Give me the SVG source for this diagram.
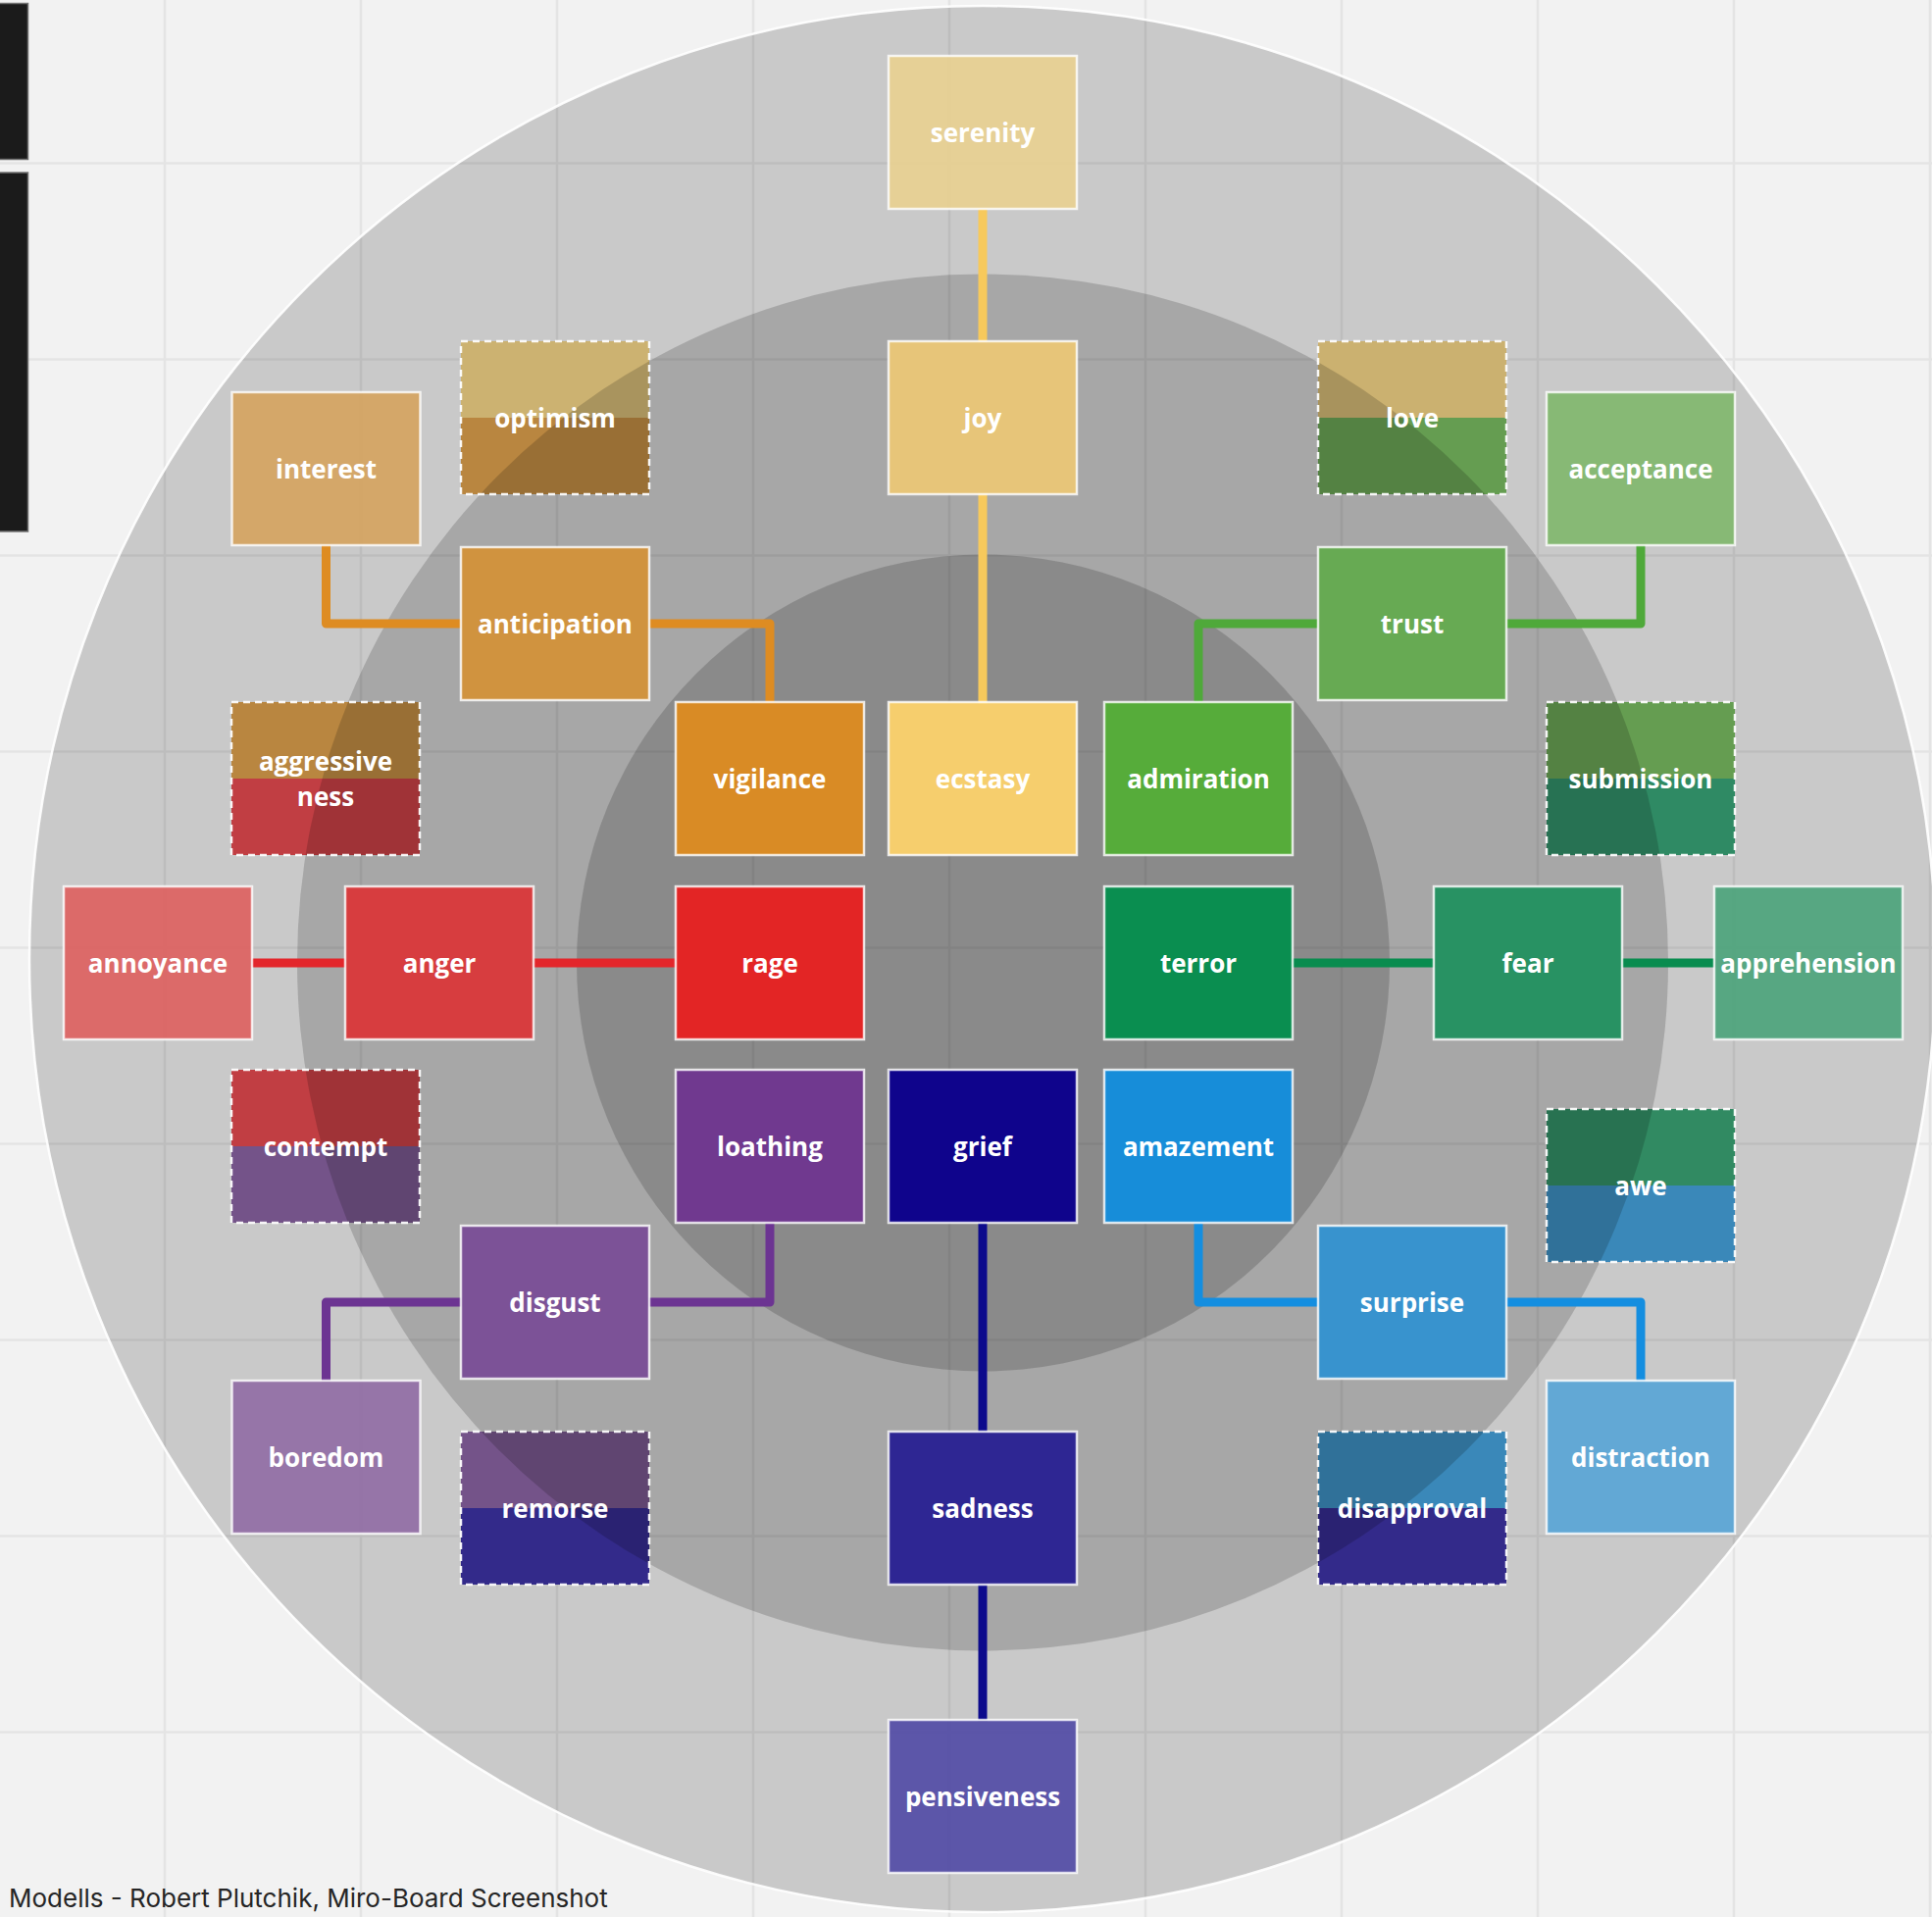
<svg xmlns="http://www.w3.org/2000/svg" xmlns:xlink="http://www.w3.org/1999/xlink" width="1970" height="1955" viewBox="0 0 1970 1955">
<style>
.grid line{stroke:#e4e4e4;stroke-width:2.5}
.conn path{fill:none;stroke-width:9;stroke-linejoin:round;stroke-linecap:butt}
.box{stroke:#ffffff;stroke-opacity:0.8;stroke-width:2.5;fill-opacity:0.97}
.dash{fill:none;stroke:#ffffff;stroke-opacity:0.92;stroke-width:2.5;stroke-dasharray:7 5}
.lbl{font-family:"Open Sans","DejaVu Sans",sans-serif;font-weight:700;font-size:26px;fill:#ffffff;text-anchor:middle}
.cap{font-family:Inter,"Liberation Sans",sans-serif;font-size:26px;fill:#262626}
</style>
<defs>
<g id="ringShapes">
<circle cx="1002" cy="978" r="972" fill="#000" fill-opacity="0.17"/>
<ellipse cx="1002" cy="981.5" rx="699" ry="702" fill="#000" fill-opacity="0.17"/>
<ellipse cx="1002.5" cy="982" rx="414.5" ry="416.5" fill="#000" fill-opacity="0.17"/>
</g>
<clipPath id="c-optimism"><rect x="470" y="348" width="192" height="156"/></clipPath>
<clipPath id="c-love"><rect x="1344" y="348" width="192" height="156"/></clipPath>
<clipPath id="c-aggressiveness"><rect x="236" y="716" width="192" height="156"/></clipPath>
<clipPath id="c-submission"><rect x="1577" y="716" width="192" height="156"/></clipPath>
<clipPath id="c-contempt"><rect x="236" y="1091" width="192" height="156"/></clipPath>
<clipPath id="c-awe"><rect x="1577" y="1131" width="192" height="156"/></clipPath>
<clipPath id="c-remorse"><rect x="470" y="1460" width="192" height="156"/></clipPath>
<clipPath id="c-disapproval"><rect x="1344" y="1460" width="192" height="156"/></clipPath>
</defs>

<rect x="0" y="0" width="1970" height="1955" fill="#f2f2f2"/>
<g class="grid">
<line x1="168" y1="0" x2="168" y2="1955"/>
<line x1="368" y1="0" x2="368" y2="1955"/>
<line x1="568" y1="0" x2="568" y2="1955"/>
<line x1="768" y1="0" x2="768" y2="1955"/>
<line x1="968" y1="0" x2="968" y2="1955"/>
<line x1="1168" y1="0" x2="1168" y2="1955"/>
<line x1="1368" y1="0" x2="1368" y2="1955"/>
<line x1="1568" y1="0" x2="1568" y2="1955"/>
<line x1="1768" y1="0" x2="1768" y2="1955"/>
<line x1="1968" y1="0" x2="1968" y2="1955"/>
<line x1="0" y1="166.5" x2="1970" y2="166.5"/>
<line x1="0" y1="366.5" x2="1970" y2="366.5"/>
<line x1="0" y1="566.5" x2="1970" y2="566.5"/>
<line x1="0" y1="766.5" x2="1970" y2="766.5"/>
<line x1="0" y1="966.5" x2="1970" y2="966.5"/>
<line x1="0" y1="1166.5" x2="1970" y2="1166.5"/>
<line x1="0" y1="1366.5" x2="1970" y2="1366.5"/>
<line x1="0" y1="1566.5" x2="1970" y2="1566.5"/>
<line x1="0" y1="1766.5" x2="1970" y2="1766.5"/>
</g>

<g id="sidebar">
<rect x="-4" y="3.5" width="32.5" height="159" fill="#1b1b1b" stroke="#707070" stroke-width="1.5"/>
<rect x="-4" y="176" width="32.5" height="366" fill="#1b1b1b" stroke="#707070" stroke-width="1.5"/>
</g>

<g id="rings">
<use href="#ringShapes" xlink:href="#ringShapes"/>
<circle cx="1002" cy="978" r="972" fill="none" stroke="#ffffff" stroke-width="2.5" stroke-opacity="0.9"/>
</g>

<g id="connectors" class="conn">
<path d="M1002,212 V350" stroke="#f7c95c"/>
<path d="M1002,502 V718" stroke="#f7c95c"/>
<path d="M332.5,554 V636 H472" stroke="#de8c22"/>
<path d="M660,636 H785 V718" stroke="#de8c22"/>
<path d="M1222,718 V636 H1346" stroke="#4fa93a"/>
<path d="M1534,636 H1673 V554" stroke="#4fa93a"/>
<path d="M255,982 H354" stroke="#e3262b"/>
<path d="M542,982 H691" stroke="#e3262b"/>
<path d="M1316,982 H1464" stroke="#098c4f"/>
<path d="M1652,982 H1750" stroke="#098c4f"/>
<path d="M785,1245 V1328 H660" stroke="#6c3492"/>
<path d="M472,1328 H332.5 V1410" stroke="#6c3492"/>
<path d="M1002,1245 V1462" stroke="#0c0a8c"/>
<path d="M1002,1614 V1756" stroke="#0c0a8c"/>
<path d="M1222,1245 V1328 H1346" stroke="#148ee0"/>
<path d="M1534,1328 H1673 V1410" stroke="#148ee0"/>
</g>

<g id="nodes">
<g id="serenity"><rect class="box" x="906" y="57" width="192" height="156" fill="#e6cf94"/><text class="lbl" x="1002" y="145">serenity</text></g>
<g id="joy"><rect class="box" x="906" y="348" width="192" height="156" fill="#e9c678"/><text class="lbl" x="1002" y="436">joy</text></g>
<g id="ecstasy"><rect class="box" x="906" y="716" width="192" height="156" fill="#fad16c"/><text class="lbl" x="1002" y="804">ecstasy</text></g>
<g id="interest"><rect class="box" x="236.5" y="400" width="192" height="156" fill="#d4a565"/><text class="lbl" x="332.5" y="488">interest</text></g>
<g id="anticipation"><rect class="box" x="470" y="558" width="192" height="156" fill="#d2933c"/><text class="lbl" x="566" y="646">anticipation</text></g>
<g id="vigilance"><rect class="box" x="689" y="716" width="192" height="156" fill="#dc8b22"/><text class="lbl" x="785" y="804">vigilance</text></g>
<g id="acceptance"><rect class="box" x="1577" y="400" width="192" height="156" fill="#84b872"/><text class="lbl" x="1673" y="488">acceptance</text></g>
<g id="trust"><rect class="box" x="1344" y="558" width="192" height="156" fill="#65aa51"/><text class="lbl" x="1440" y="646">trust</text></g>
<g id="admiration"><rect class="box" x="1126" y="716" width="192" height="156" fill="#55ad38"/><text class="lbl" x="1222" y="804">admiration</text></g>
<g id="annoyance"><rect class="box" x="65" y="904" width="192" height="156" fill="#dc6665"/><text class="lbl" x="161" y="992">annoyance</text></g>
<g id="anger"><rect class="box" x="352" y="904" width="192" height="156" fill="#d93a3c"/><text class="lbl" x="448" y="992">anger</text></g>
<g id="rage"><rect class="box" x="689" y="904" width="192" height="156" fill="#e62222"/><text class="lbl" x="785" y="992">rage</text></g>
<g id="terror"><rect class="box" x="1126" y="904" width="192" height="156" fill="#068e4e"/><text class="lbl" x="1222" y="992">terror</text></g>
<g id="fear"><rect class="box" x="1462" y="904" width="192" height="156" fill="#249261"/><text class="lbl" x="1558" y="992">fear</text></g>
<g id="apprehension"><rect class="box" x="1748" y="904" width="192" height="156" fill="#53a57f"/><text class="lbl" x="1844" y="992">apprehension</text></g>
<g id="loathing"><rect class="box" x="689" y="1091" width="192" height="156" fill="#6f378f"/><text class="lbl" x="785" y="1179">loathing</text></g>
<g id="grief"><rect class="box" x="906" y="1091" width="192" height="156" fill="#0b008c"/><text class="lbl" x="1002" y="1179">grief</text></g>
<g id="amazement"><rect class="box" x="1126" y="1091" width="192" height="156" fill="#148ddc"/><text class="lbl" x="1222" y="1179">amazement</text></g>
<g id="disgust"><rect class="box" x="470" y="1250" width="192" height="156" fill="#7b5097"/><text class="lbl" x="566" y="1338">disgust</text></g>
<g id="surprise"><rect class="box" x="1344" y="1250" width="192" height="156" fill="#3593d0"/><text class="lbl" x="1440" y="1338">surprise</text></g>
<g id="boredom"><rect class="box" x="236.5" y="1408" width="192" height="156" fill="#9472a6"/><text class="lbl" x="332.5" y="1496">boredom</text></g>
<g id="distraction"><rect class="box" x="1577" y="1408" width="192" height="156" fill="#5ea6d5"/><text class="lbl" x="1673" y="1496">distraction</text></g>
<g id="sadness"><rect class="box" x="906" y="1460" width="192" height="156" fill="#2a2293"/><text class="lbl" x="1002" y="1548">sadness</text></g>
<g id="pensiveness"><rect class="box" x="906" y="1754" width="192" height="156" fill="#5852a7"/><text class="lbl" x="1002" y="1842">pensiveness</text></g>

<g id="optimism"><rect x="470" y="348" width="192" height="78" fill="#f6d688"/><rect x="470" y="426" width="192" height="78" fill="#dfa24e"/><use href="#ringShapes" xlink:href="#ringShapes" clip-path="url(#c-optimism)"/><rect class="dash" x="470" y="348" width="192" height="156"/><text class="lbl" x="566" y="436">optimism</text></g>
<g id="love"><rect x="1344" y="348" width="192" height="78" fill="#f5d587"/><rect x="1344" y="426" width="192" height="78" fill="#7abd62"/><use href="#ringShapes" xlink:href="#ringShapes" clip-path="url(#c-love)"/><rect class="dash" x="1344" y="348" width="192" height="156"/><text class="lbl" x="1440" y="436">love</text></g>
<g id="aggressiveness"><rect x="236" y="716" width="192" height="78" fill="#dfa24e"/><rect x="236" y="794" width="192" height="78" fill="#e94b51"/><use href="#ringShapes" xlink:href="#ringShapes" clip-path="url(#c-aggressiveness)"/><rect class="dash" x="236" y="716" width="192" height="156"/><text class="lbl" x="332" y="786">aggressive</text><text class="lbl" x="332" y="822">ness</text></g>
<g id="submission"><rect x="1577" y="716" width="192" height="78" fill="#7abd62"/><rect x="1577" y="794" width="192" height="78" fill="#39a679"/><use href="#ringShapes" xlink:href="#ringShapes" clip-path="url(#c-submission)"/><rect class="dash" x="1577" y="716" width="192" height="156"/><text class="lbl" x="1673" y="804">submission</text></g>
<g id="contempt"><rect x="236" y="1091" width="192" height="78" fill="#e94b51"/><rect x="236" y="1169" width="192" height="78" fill="#8c64a5"/><use href="#ringShapes" xlink:href="#ringShapes" clip-path="url(#c-contempt)"/><rect class="dash" x="236" y="1091" width="192" height="156"/><text class="lbl" x="332" y="1179">contempt</text></g>
<g id="awe"><rect x="1577" y="1131" width="192" height="78" fill="#3ba776"/><rect x="1577" y="1209" width="192" height="78" fill="#46a4df"/><use href="#ringShapes" xlink:href="#ringShapes" clip-path="url(#c-awe)"/><rect class="dash" x="1577" y="1131" width="192" height="156"/><text class="lbl" x="1673" y="1219">awe</text></g>
<g id="remorse"><rect x="470" y="1460" width="192" height="78" fill="#8c64a5"/><rect x="470" y="1538" width="192" height="78" fill="#3e33a7"/><use href="#ringShapes" xlink:href="#ringShapes" clip-path="url(#c-remorse)"/><rect class="dash" x="470" y="1460" width="192" height="156"/><text class="lbl" x="566" y="1548">remorse</text></g>
<g id="disapproval"><rect x="1344" y="1460" width="192" height="78" fill="#46a4df"/><rect x="1344" y="1538" width="192" height="78" fill="#3e33a7"/><use href="#ringShapes" xlink:href="#ringShapes" clip-path="url(#c-disapproval)"/><rect class="dash" x="1344" y="1460" width="192" height="156"/><text class="lbl" x="1440" y="1548">disapproval</text></g>
</g>

<text class="cap" x="9" y="1945">Modells - Robert Plutchik, Miro-Board Screenshot</text>
</svg>
